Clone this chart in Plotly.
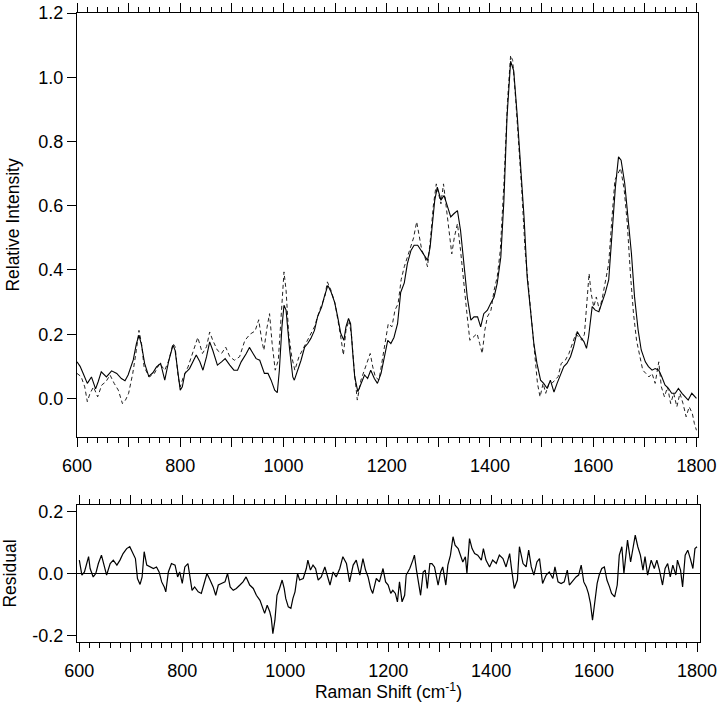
import plotly.graph_objects as go

# ---------------- data ----------------
solid_x = [600, 606, 612, 620, 628, 636, 641, 647, 657, 667, 677, 686, 693, 699, 709, 715, 720, 725, 731, 739,
           747, 754, 762, 770, 778, 786, 790, 796, 800, 804, 809, 818, 831, 838, 844, 851, 857, 863, 872, 880,
           887, 896, 904, 911, 918, 928, 934, 941, 947, 954, 963, 970, 976, 983, 988, 992, 997, 1001, 1005, 1012,
           1018, 1021, 1028, 1034, 1041, 1047, 1053, 1060, 1066, 1074, 1079, 1086, 1092, 1099, 1105, 1111, 1117,
           1121, 1126, 1130, 1134, 1138, 1144, 1150, 1157, 1163, 1169, 1176, 1182, 1189, 1195, 1202, 1208, 1214,
           1221, 1227, 1234, 1240, 1247, 1253, 1260, 1266, 1272, 1279, 1284, 1289, 1293, 1298, 1305, 1311, 1318,
           1324, 1330, 1337, 1343, 1350, 1356, 1363, 1369, 1376, 1382, 1388, 1395, 1401, 1408, 1414, 1421, 1427,
           1433, 1440, 1446, 1453, 1459, 1466, 1472, 1479, 1485, 1491, 1498, 1504, 1511, 1517, 1524, 1530, 1537,
           1543, 1549, 1556, 1562, 1569, 1575, 1582, 1587, 1591, 1598, 1604, 1611, 1617, 1623, 1630, 1636, 1643,
           1649, 1654, 1661, 1667, 1674, 1680, 1687, 1693, 1701, 1707, 1714, 1720, 1727, 1733, 1739, 1746, 1752,
           1759, 1765, 1772, 1778, 1784, 1791, 1800]
solid_y = [0.114, 0.100, 0.078, 0.047, 0.067, 0.030, 0.052, 0.083, 0.067, 0.086, 0.078, 0.062, 0.055, 0.073, 0.120,
           0.170, 0.197, 0.166, 0.109, 0.069, 0.080, 0.098, 0.109, 0.057, 0.119, 0.166, 0.150, 0.073, 0.026, 0.036,
           0.078, 0.093, 0.135, 0.114, 0.088, 0.130, 0.176, 0.150, 0.104, 0.114, 0.124, 0.104, 0.088, 0.088, 0.114,
           0.140, 0.159, 0.140, 0.124, 0.119, 0.078, 0.078, 0.057, 0.026, 0.018, 0.088, 0.223, 0.290, 0.275, 0.150,
           0.067, 0.057, 0.088, 0.119, 0.160, 0.171, 0.187, 0.212, 0.254, 0.285, 0.316, 0.352, 0.332, 0.300, 0.254,
           0.202, 0.181, 0.223, 0.249, 0.233, 0.145, 0.067, 0.021, 0.047, 0.073, 0.062, 0.088, 0.062, 0.047, 0.078,
           0.130, 0.181, 0.171, 0.190, 0.233, 0.330, 0.360, 0.420, 0.461, 0.477, 0.477, 0.461, 0.446, 0.430, 0.470,
           0.565, 0.617, 0.658, 0.617, 0.632, 0.596, 0.565, 0.575, 0.585, 0.523, 0.420, 0.316, 0.244, 0.254, 0.254,
           0.223, 0.264, 0.275, 0.295, 0.316, 0.358, 0.440, 0.617, 0.876, 1.050, 1.020, 0.876, 0.741, 0.565, 0.378,
           0.275, 0.171, 0.109, 0.057, 0.047, 0.031, 0.057, 0.020, 0.047, 0.078, 0.099, 0.109, 0.130, 0.161, 0.208,
           0.192, 0.177, 0.156, 0.192, 0.286, 0.275, 0.270, 0.296, 0.327, 0.369, 0.493, 0.659, 0.752, 0.742, 0.670,
           0.566, 0.452, 0.317, 0.213, 0.151, 0.114, 0.099, 0.088, 0.093, 0.088, 0.067, 0.042, 0.031, 0.016, 0.016,
           0.031, 0.016, 0.005, -0.005, 0.016, 0.000]

dashed_x = [600, 608, 615, 620, 625, 632, 640, 648, 656, 664, 672, 680, 688, 694, 700, 708, 715, 720, 725, 730,
            740, 750, 760, 770, 778, 786, 790, 796, 800, 806, 815, 825, 834, 843, 851, 857, 863, 872, 880, 888,
            896, 905, 915, 925, 935, 945, 952, 958, 962, 968, 973, 978, 984, 990, 996, 1001, 1005, 1010, 1016,
            1022, 1030, 1040, 1050, 1060, 1070, 1080, 1085, 1092, 1100, 1106, 1112, 1116, 1121, 1127, 1132, 1137,
            1143, 1150, 1157, 1163, 1168, 1173, 1178, 1185, 1191, 1197, 1203, 1210, 1216, 1222, 1228, 1234, 1240,
            1247, 1252, 1258, 1263, 1268, 1274, 1279, 1285, 1290, 1296, 1300, 1305, 1310, 1315, 1320, 1326, 1331,
            1337, 1343, 1350, 1356, 1361, 1368, 1375, 1380, 1385, 1390, 1395, 1402, 1408, 1414, 1420, 1427, 1434,
            1440, 1444, 1450, 1456, 1462, 1468, 1474, 1480, 1486, 1492, 1497, 1503, 1508, 1514, 1520, 1526, 1532,
            1538, 1546, 1553, 1560, 1566, 1572, 1578, 1583, 1588, 1592, 1596, 1601, 1606, 1612, 1618, 1624, 1630,
            1636, 1642, 1648, 1653, 1660, 1666, 1672, 1678, 1684, 1690, 1696, 1702, 1708, 1714, 1720, 1727, 1732,
            1738, 1744, 1750, 1756, 1762, 1768, 1774, 1780, 1786, 1792, 1796, 1800]
dashed_y = [0.078, 0.068, 0.036, -0.010, 0.015, 0.036, 0.005, 0.042, 0.052, 0.073, 0.047, 0.026, -0.016, -0.005,
            0.016, 0.078, 0.150, 0.212, 0.171, 0.098, 0.067, 0.078, 0.109, 0.088, 0.119, 0.171, 0.161, 0.067, 0.036,
            0.067, 0.098, 0.150, 0.190, 0.140, 0.161, 0.207, 0.181, 0.150, 0.140, 0.160, 0.130, 0.119, 0.130, 0.180,
            0.200, 0.210, 0.245, 0.180, 0.150, 0.220, 0.264, 0.171, 0.088, 0.119, 0.274, 0.394, 0.337, 0.202, 0.130,
            0.088, 0.130, 0.160, 0.192, 0.223, 0.275, 0.316, 0.363, 0.337, 0.295, 0.244, 0.181, 0.135, 0.212, 0.244,
            0.192, 0.088, -0.005, 0.057, 0.088, 0.114, 0.140, 0.098, 0.067, 0.057, 0.119, 0.181, 0.233, 0.223, 0.275,
            0.295, 0.370, 0.410, 0.440, 0.470, 0.500, 0.550, 0.500, 0.461, 0.440, 0.410, 0.502, 0.596, 0.668, 0.637,
            0.606, 0.668, 0.596, 0.523, 0.450, 0.502, 0.544, 0.461, 0.337, 0.254, 0.181, 0.192, 0.202, 0.171, 0.140,
            0.212, 0.254, 0.275, 0.337, 0.378, 0.461, 0.668, 0.927, 1.068, 1.052, 0.927, 0.793, 0.637, 0.461, 0.358,
            0.254, 0.150, 0.047, 0.005, 0.047, 0.016, 0.047, 0.047, 0.057, 0.068, 0.109, 0.119, 0.140, 0.171, 0.200,
            0.192, 0.181, 0.200, 0.306, 0.389, 0.327, 0.285, 0.316, 0.275, 0.316, 0.369, 0.420, 0.555, 0.680, 0.700,
            0.717, 0.650, 0.545, 0.389, 0.265, 0.180, 0.130, 0.088, 0.078, 0.067, 0.078, 0.047, 0.114, 0.036, 0.005,
            0.036, -0.016, 0.016, -0.026, 0.016, -0.016, -0.057, -0.026, -0.047, -0.078, -0.099]

resid_x = [600, 605, 610, 614, 618, 621, 627, 632, 637, 643, 650, 653, 660, 666, 673, 679, 685, 692, 698, 705,
           709, 713, 718, 722, 726, 731, 737, 744, 750, 755, 760, 765, 768, 773, 779, 786, 791, 795, 800, 805,
           811, 815, 819, 824, 831, 837, 844, 848, 854, 860, 865, 870, 876, 883, 888, 893, 899, 905, 912, 918,
           924, 931, 938, 944, 951, 956, 960, 965, 970, 973, 976, 980, 984, 989, 994, 998, 1001, 1006, 1011, 1015,
           1019, 1024, 1028, 1035, 1041, 1044, 1049, 1054, 1059, 1064, 1070, 1077, 1082, 1087, 1093, 1099, 1106,
           1112, 1119, 1125, 1132, 1138, 1145, 1151, 1156, 1161, 1166, 1170, 1177, 1183, 1190, 1195, 1200, 1205,
           1209, 1214, 1218, 1222, 1227, 1232, 1235, 1242, 1248, 1251, 1255, 1259, 1263, 1268, 1272, 1276, 1281,
           1285, 1290, 1297, 1302, 1306, 1312, 1316, 1321, 1326, 1330, 1336, 1341, 1345, 1350, 1353, 1358, 1363,
           1368, 1374, 1381, 1385, 1390, 1397, 1403, 1410, 1416, 1423, 1429, 1436, 1440, 1445, 1451, 1455, 1462,
           1468, 1473, 1478, 1483, 1489, 1494, 1500, 1507, 1513, 1520, 1524, 1530, 1536, 1542, 1548, 1552, 1559,
           1565, 1570, 1575, 1580, 1585, 1589, 1593, 1597, 1601, 1606, 1610, 1615, 1620, 1625, 1630, 1634, 1640,
           1645, 1649, 1654, 1658, 1662, 1665, 1671, 1675, 1680, 1685, 1690, 1695, 1699, 1704, 1711, 1717, 1722,
           1727, 1733, 1738, 1743, 1748, 1753, 1759, 1762, 1768, 1772, 1777, 1782, 1787, 1792, 1796, 1800]
resid_y = [0.043, -0.005, 0.005, 0.027, 0.054, 0.016, -0.011, 0.000, 0.032, 0.059, 0.016, -0.005, 0.032, 0.043,
           0.027, 0.043, 0.064, 0.080, 0.086, 0.059, 0.048, -0.016, -0.035, -0.011, 0.070, 0.027, 0.021, 0.016,
           0.021, 0.005, -0.027, -0.043, -0.059, 0.005, 0.032, 0.027, -0.011, 0.005, -0.032, 0.021, 0.032, -0.011,
           -0.054, -0.043, -0.059, -0.064, -0.027, 0.000, -0.021, -0.043, -0.070, -0.037, -0.032, -0.027, 0.000,
           -0.043, -0.054, -0.048, -0.037, -0.027, -0.011, -0.037, -0.048, -0.070, -0.086, -0.112, -0.128, -0.102,
           -0.123, -0.144, -0.193, -0.150, -0.070, -0.048, -0.021, -0.048, -0.080, -0.107, -0.112, -0.080, -0.059,
           0.000, -0.021, -0.016, 0.016, 0.043, 0.011, 0.027, 0.016, -0.021, -0.011, 0.021, -0.011, -0.037, 0.005,
           -0.011, 0.016, 0.054, 0.032, -0.027, 0.027, 0.043, -0.005, 0.048, 0.011, -0.011, -0.048, -0.064, -0.016,
           -0.027, 0.016, -0.027, -0.037, -0.064, -0.054, -0.064, -0.091, -0.027, -0.091, -0.070, -0.005, 0.016,
           0.043, 0.059, 0.011, -0.037, -0.070, 0.005, 0.011, -0.048, 0.032, 0.032, 0.021, -0.037, 0.005, 0.021,
           -0.037, 0.027, 0.059, 0.118, 0.091, 0.080, 0.059, 0.037, 0.054, 0.000, 0.112, 0.080, 0.064, 0.059, 0.043,
           0.080, 0.043, 0.021, 0.043, 0.032, 0.059, 0.048, 0.021, 0.064, 0.011, -0.048, -0.021, 0.086, 0.032, 0.021,
           0.075, 0.021, -0.005, 0.037, 0.048, -0.032, -0.005, 0.005, -0.016, 0.021, -0.027, -0.032, -0.027, 0.011,
           -0.037, -0.021, -0.011, -0.005, 0.027, -0.027, -0.043, -0.064, -0.096, -0.150, -0.102, -0.032, -0.005,
           0.016, 0.021, -0.021, -0.043, -0.064, -0.075, -0.037, 0.059, 0.086, 0.000, 0.059, 0.107, 0.037, 0.070,
           0.123, 0.086, 0.059, 0.011, 0.054, -0.005, 0.043, 0.016, 0.043, 0.011, -0.037, 0.016, 0.032, -0.011,
           0.027, -0.005, 0.043, 0.011, -0.043, 0.059, 0.075, 0.048, 0.016, 0.080, 0.086]

x_label_ticks = [600, 800, 1000, 1200, 1400, 1600, 1800]
x_label_text = ["600", "800", "1000", "1200", "1400", "1600", "1800"]
top_y_tickvals = [0.0, 0.2, 0.4, 0.6, 0.8, 1.0, 1.2]
top_y_ticktext = ["0.0", "0.2", "0.4", "0.6", "0.8", "1.0", "1.2"]
res_y_tickvals = [-0.2, 0.0, 0.2]
res_y_ticktext = ["-0.2", "0.0", "0.2"]

FONT = "Liberation Sans, Arial, Helvetica, sans-serif"
TOP_XRANGE = [600, 1803]
BOT_XRANGE = [595.5, 1805.8]

fig = go.Figure()
fig.add_trace(go.Scatter(x=dashed_x, y=dashed_y, mode="lines", xaxis="x", yaxis="y",
                         line=dict(color="#222222", width=1, dash="4px,3px"), showlegend=False))
fig.add_trace(go.Scatter(x=solid_x, y=solid_y, mode="lines", xaxis="x", yaxis="y",
                         line=dict(color="black", width=1.1), showlegend=False))
fig.add_trace(go.Scatter(x=resid_x, y=resid_y, mode="lines", xaxis="x2", yaxis="y2",
                         line=dict(color="black", width=1.2), showlegend=False))
# empty helper traces so the overlay axes carrying the 100-unit ticks get drawn
fig.add_trace(go.Scatter(x=[None], y=[None], xaxis="x3", yaxis="y", showlegend=False, hoverinfo="skip"))
fig.add_trace(go.Scatter(x=[None], y=[None], xaxis="x4", yaxis="y2", showlegend=False, hoverinfo="skip"))

axis_common = dict(showline=True, linecolor="black", linewidth=1, showgrid=False, automargin=False,
                   tickcolor="black", tickwidth=1, tickfont=dict(family=FONT, size=18, color="black"))

x_common = dict(axis_common, tickmode="array", tickvals=x_label_ticks, ticktext=x_label_text,
                ticks="outside", ticklen=9, mirror="ticks", zeroline=False,
                minor=dict(dtick=20, tick0=600, ticks="outside", ticklen=5, tickcolor="black", tickwidth=1,
                           showgrid=False),
                ticklabelstandoff=3)

x_overlay = dict(showline=False, showgrid=False, zeroline=False, automargin=False, showticklabels=False,
                 tickmode="linear", tick0=600, dtick=100, ticks="outside", ticklen=9,
                 tickcolor="black", tickwidth=1, mirror="ticks")

fig.update_layout(
    width=720, height=702,
    margin=dict(l=77, r=20, t=13, b=60),
    paper_bgcolor="white", plot_bgcolor="white",
    font=dict(family=FONT, size=18, color="black"),
    xaxis=dict(x_common, domain=[0, 0.9968], range=TOP_XRANGE, anchor="y"),
    xaxis3=dict(x_overlay, domain=[0, 0.9968], range=TOP_XRANGE, anchor="y", overlaying="x", side="bottom"),
    yaxis=dict(axis_common, domain=[0.3259, 1.0], range=[-0.12, 1.2], anchor="x",
               tickmode="array", tickvals=top_y_tickvals, ticktext=top_y_ticktext,
               ticks="outside", ticklen=9, mirror=True, zeroline=False,
               title=dict(text="Relative Intensity", font=dict(family=FONT, size=17.5), standoff=14)),
    xaxis2=dict(x_common, domain=[0, 1.0], range=BOT_XRANGE, anchor="y2",
                title=dict(text="Raman Shift (cm<sup>-1</sup>)", font=dict(family=FONT, size=17.5), standoff=6)),
    xaxis4=dict(x_overlay, domain=[0, 1.0], range=BOT_XRANGE, anchor="y2", overlaying="x2", side="bottom"),
    yaxis2=dict(axis_common, domain=[0, 0.2178], range=[-0.22, 0.22], anchor="x2",
                tickmode="array", tickvals=res_y_tickvals, ticktext=res_y_ticktext,
                ticks="outside", ticklen=9, mirror=True,
                zeroline=True, zerolinecolor="black", zerolinewidth=1,
                title=dict(text="Residual", font=dict(family=FONT, size=17.5), standoff=12)),
)

fig.write_html("out.html", config={"displayModeBar": False, "responsive": False},
               post_script="document.body.style.margin='0px';")
